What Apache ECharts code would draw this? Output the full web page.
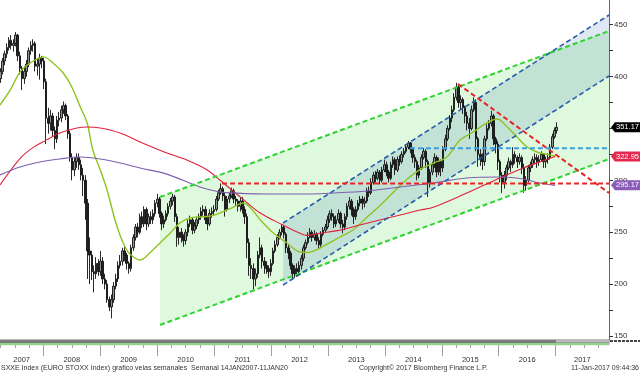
<!DOCTYPE html>
<html><head><meta charset="utf-8">
<script src="https://cdn.jsdelivr.net/npm/echarts/dist/echarts.min.js"></script>
<style>html,body{margin:0;padding:0;background:#fff}#c{width:640px;height:374px}</style>
</head><body><div id="c"></div>
<script>
// ---------- DATA ----------
// bi-weekly candles, first one week of 31-Mar-2007, step 14 days
const candleStart = '2007-03-31';
const candleStepDays = 14;
const opens = [
398,405,415,422,428,435,430,432,440,420,408,398,405,412,425,430,432,410,412,418,
415,395,360,355,362,348,340,358,360,368,372,362,345,322,310,318,322,315,305,300,278,232,228,212,210,220,
212,222,205,200,185,178,185,198,205,218,222,232,228,220,215,235,245,255,250,265,258,272,258,265,262,268,
278,282,268,258,262,268,275,280,284,265,245,250,245,242,250,258,262,252,256,262,265,270,272,262,258,268,
270,272,282,288,292,285,272,282,285,290,282,280,275,280,272,265,240,218,215,205,210,228,235,222,218,215,
212,220,232,238,245,250,255,248,235,230,218,210,215,212,218,225,235,240,245,250,245,248,242,238,248,252,
255,262,268,265,258,262,268,258,255,265,275,280,272,265,272,278,282,278,280,290,288,298,305,302,308,300,
310,315,308,302,315,320,310,320,318,325,328,332,336,330,322,318,305,312,322,328,318,298,308,315,322,308,
318,312,330,340,350,360,368,380,390,375,378,370,362,355,350,368,375,340,325,322,318,340,350,355,362,340,
335,318,305,298,305,312,318,315,325,322,318,322,312,295,300,312,315,320,322,318,320,325,318,320,322,332,342,348];
const closes = [
405,415,422,428,435,430,432,440,420,408,398,405,412,425,430,432,410,412,418,415,
395,360,355,362,348,340,358,360,368,372,362,345,322,310,318,322,315,305,300,278,232,228,212,210,220,212,
222,205,200,185,178,185,198,205,218,222,232,228,220,215,235,245,255,250,265,258,272,258,265,262,268,278,
282,268,258,262,268,275,280,284,265,245,250,245,242,250,258,262,252,256,262,265,270,272,262,258,268,270,
272,282,288,292,285,272,282,285,290,282,280,275,280,272,265,240,218,215,205,210,228,235,222,218,215,212,
220,232,238,245,250,255,248,235,230,218,210,215,212,218,225,235,240,245,250,245,248,242,238,248,252,255,
262,268,265,258,262,268,258,255,265,275,280,272,265,272,278,282,278,280,290,288,298,305,302,308,300,310,
315,308,302,315,320,310,320,318,325,328,332,336,330,322,318,305,312,322,328,318,298,308,315,322,308,318,
312,330,340,350,360,368,380,390,375,378,370,362,355,350,368,375,340,325,322,318,340,350,355,362,340,335,
318,305,298,305,312,318,315,325,322,318,322,312,295,300,312,315,320,322,318,320,325,318,320,322,332,342,348,351.17];
const highs = [
408,418,425,432,438,440,436,443,441,424,410,410,416,428,434,436,434,418,422,420,
418,398,370,368,365,352,362,366,372,376,374,364,348,326,322,326,326,320,312,305,282,245,232,218,226,224,
232,226,210,204,188,190,202,210,222,228,235,236,230,222,238,248,258,259,268,270,275,274,268,270,272,281,
287,284,270,266,271,278,283,287,286,268,255,254,248,253,262,266,264,260,265,268,274,276,275,266,272,274,
276,285,291,297,294,288,285,288,293,292,285,282,283,284,275,268,244,225,220,215,232,245,238,226,222,218,
224,235,242,248,253,258,257,250,238,232,220,218,220,222,228,238,243,250,254,252,252,250,245,251,255,258,
266,271,272,268,266,272,270,262,268,278,284,282,274,275,281,285,285,284,293,294,302,308,309,311,310,313,
320,318,310,318,323,322,323,324,328,331,335,338,337,332,325,320,315,325,331,330,320,311,318,326,324,322,
320,333,344,353,363,372,384,394,392,382,380,372,366,360,372,380,378,342,330,326,343,354,358,367,364,342,
338,320,308,309,315,322,320,332,328,324,326,324,316,304,315,318,323,326,325,324,328,326,323,326,335,345,351,356];
const lows = [
394,402,411,418,425,426,424,429,415,402,387,393,400,409,421,424,405,401,397,408,
388,335,345,348,342,330,336,352,356,364,358,340,318,300,304,312,310,300,285,262,205,200,204,192,205,208,
208,200,195,182,174,167,182,195,202,215,218,222,214,210,212,232,242,245,248,254,255,252,255,258,258,265,
274,264,252,254,260,265,272,276,260,236,238,240,236,238,246,255,248,249,253,258,262,266,258,252,256,264,
266,270,280,286,280,265,270,278,283,278,275,270,270,268,258,225,208,205,195,198,206,225,215,210,210,206,
208,218,230,236,243,247,244,230,224,214,205,206,207,208,214,222,233,238,244,241,242,238,234,236,246,250,
253,259,261,254,255,259,254,249,252,262,272,266,258,262,270,275,272,274,278,284,286,296,298,300,296,298,
308,304,298,300,312,305,308,314,316,322,326,330,326,317,312,300,302,310,320,312,284,293,305,312,303,305,
304,308,328,338,348,356,366,377,370,368,364,355,348,340,348,366,328,313,314,310,314,338,348,352,334,326,
310,298,288,292,300,310,308,312,316,312,315,306,288,290,298,308,312,316,312,314,318,312,312,316,320,330,340,345];

// moving averages: [decimal year, value]
const maGreen = [[2007.24,372.6],[2007.42,387.1],[2007.59,404.3],[2007.77,413.1],[2007.94,418.0],[2008.00,419.0],[2008.17,413.1],[2008.35,403.4],[2008.50,390.0],[2008.65,370.7],[2008.77,355.3],[2008.87,329.2],[2009.00,310.0],[2009.12,290.7],[2009.26,261.8],[2009.38,242.5],[2009.49,230.9],[2009.61,225.2],[2009.70,223.2],[2009.87,230.0],[2010.05,239.6],[2010.23,249.3],[2010.40,259.0],[2010.58,263.7],[2010.75,264.7],[2010.93,265.5],[2011.10,268.5],[2011.33,274.0],[2011.51,278.2],[2011.63,274.0],[2011.81,262.0],[2012.04,249.3],[2012.28,239.6],[2012.51,230.9],[2012.63,230.5],[2012.86,234.8],[2013.21,245.4],[2013.44,252.1],[2013.69,264.7],[2013.92,276.0],[2014.14,288.0],[2014.39,301.0],[2014.62,310.5],[2014.85,316.7],[2015.09,322.5],[2015.32,338.9],[2015.55,346.6],[2015.79,355.3],[2015.97,359.1],[2016.15,351.4],[2016.32,341.8],[2016.50,332.1],[2016.67,327.3],[2016.85,325.0],[2016.99,323.5]];
const maRed = [[2007.24,295.5],[2007.59,321.0],[2007.83,332.0],[2008.06,339.0],[2008.29,345.6],[2008.59,350.4],[2008.77,351.4],[2009.00,350.4],[2009.35,345.6],[2009.70,337.0],[2010.17,326.4],[2010.52,319.6],[2010.88,310.0],[2011.10,300.3],[2011.46,284.0],[2011.81,268.5],[2012.21,257.0],[2012.51,249.0],[2012.63,247.0],[2012.86,249.0],[2013.21,252.0],[2013.56,257.0],[2013.91,261.8],[2014.27,266.6],[2014.62,271.4],[2014.85,274.0],[2015.44,287.8],[2016.02,302.3],[2016.43,312.0],[2016.72,317.7],[2016.99,322.95]];
const maPurple = [[2007.24,305.2],[2007.59,312.9],[2007.94,317.7],[2008.29,320.6],[2008.64,322.5],[2009.00,320.6],[2009.35,316.7],[2009.70,311.9],[2010.17,306.0],[2010.75,293.6],[2011.10,288.8],[2011.33,287.8],[2011.93,286.8],[2012.51,286.8],[2013.09,287.8],[2013.69,289.7],[2014.27,293.6],[2014.85,297.4],[2015.44,302.3],[2016.02,303.2],[2016.43,301.3],[2016.72,297.4],[2016.99,295.17]];

// trend channels and levels: [decimal year, value]
const greenUpper = [[2010.05,283.9],[2017.937,443.9]];
const greenLower = [[2010.05,160.6],[2017.937,320.6]];
const blueUpper = [[2012.211,258.9],[2017.937,459.3]];
const blueLower = [[2012.211,199.1],[2017.937,400.6]];
const redDown = [[2015.284,392.9],[2017.937,287.8]];
const redLevel = [[2011.14,297.0],[2017.937,297.0]];
const blueLevel = [[2014.44,330.9],[2017.937,330.9]];

// last-value tags
const tagValues = {price: 351.17, red: 322.95, purple: 295.17};

const yearLabels = ['2007','2008','2009','2010','2011','2012','2013','2014','2015','2016','2017'];
const yTickValues = [150,175,200,225,250,275,300,325,350,375,400,425,450];
const yLabelValues = [150,200,250,300,350,400,450];

const footerLeft = 'SXXE Index (EURO STOXX Index) grafico velas semanales  Semanal 14JAN2007-11JAN20';
const footerMid = 'Copyright\u00A9 2017 Bloomberg Finance L.P.';
const footerRight = '11-Jan-2017 09:44:36';

// ---------- BUILD ----------
const X_MIN = 2007.2394, X_MAX = 2017.9366;
const Y_MIN = 146.15, Y_MAX = 473.8;
const FONT = '"Liberation Sans",Arial,sans-serif';

function decYear(ms){const d=new Date(ms);const y=d.getUTCFullYear();const s=Date.UTC(y,0,1),e=Date.UTC(y+1,0,1);return y+(ms-s)/(e-s);}
const t0 = Date.parse(candleStart+'T00:00:00Z');
const candleData = closes.map((c,i)=>[decYear(t0+i*candleStepDays*86400000), opens[i], c, lows[i], highs[i]]);

const yearTicks = yearLabels.map(Number).filter(y=>y>X_MIN && y<X_MAX);
const yearLabelPos = yearLabels.map(s=>{const y=Number(s);return (Math.max(y,X_MIN)+Math.min(y+1,X_MAX))/2;});
const quarterTicks = [];
yearLabels.forEach(s=>{const y=Number(s);[0.25,0.5,0.75].forEach(q=>{if(y+q>X_MIN&&y+q<X_MAX)quarterTicks.push(y+q);});});

function band(data, color){
  return {type:'custom', z:1, silent:true, animation:false,
    data:[[data[0][0][0], data[1][0][1], data[0][0][1], data[0][1][0], data[1][1][1], data[0][1][1]]],
    encode:{x:[0,3], y:[1,2,4,5]},
    renderItem:(p,api)=>({type:'polygon', shape:{points:[
      api.coord([api.value(0),api.value(2)]), api.coord([api.value(3),api.value(5)]),
      api.coord([api.value(3),api.value(4)]), api.coord([api.value(0),api.value(1)])]},
      style:{fill:color}})};
}
function dashed(data,color,w){
  return {type:'line', z:5, data, symbol:'none', silent:true, animation:false,
    lineStyle:{color, width:w, type:[5,3]}};
}
function tag(value,color){
  return {symbol:'path://M0,5L4,0L30,0L30,10L4,10Z', symbolSize:[29,10], symbolKeepAspect:false,
    symbolOffset:[16.5,0], silent:true, animation:false,
    label:{show:true, position:'inside', color:'#fff', fontSize:7.5, fontFamily:FONT, offset:[2,0],
      formatter:()=>value.toFixed(2)},
    itemStyle:{color}, data:[{coord:[X_MAX,value], value}]};
}
function ma(data,color,w){
  return {type:'line', z:4, data, symbol:'none', smooth:0.35, silent:true, animation:false,
    lineStyle:{color, width:w}};
}

const chart = echarts.init(document.getElementById('c'), null, {renderer:'canvas'});
const maRedSeries = ma(maRed,'#e0203c',1.1); maRedSeries.markPoint = tag(tagValues.red,'#e4284e');
const maPurpleSeries = ma(maPurple,'#7d5fae',1.1); maPurpleSeries.markPoint = tag(tagValues.purple,'#8a5cb8');
const footStyle = {fontSize:7, fontWeight:'normal', color:'#333', fontFamily:FONT};

chart.setOption({
  animation:false,
  backgroundColor:'#fff',
  title:[
    {text:footerLeft, left:1, top:365, padding:0, textStyle:footStyle},
    {text:footerMid, left:359, top:365, padding:0, textStyle:footStyle},
    {text:footerRight, right:1, top:365, padding:0, textStyle:footStyle}
  ],
  grid:{left:0, right:31, top:0, bottom:34, containLabel:false},
  xAxis:[
    {type:'value', min:X_MIN, max:X_MAX, position:'bottom', axisLine:{show:false}, splitLine:{show:false},
     axisTick:{show:true, customValues:yearTicks, length:16, lineStyle:{color:'#a0a0a0'}},
     axisLabel:{show:true, customValues:yearLabelPos, formatter:v=>String(Math.floor(v)), fontSize:7.5, color:'#333', fontFamily:FONT, margin:16}},
    {type:'value', min:X_MIN, max:X_MAX, position:'bottom', axisLine:{show:false}, splitLine:{show:false},
     axisTick:{show:true, customValues:quarterTicks, length:8, lineStyle:{color:'#a0a0a0'}},
     axisLabel:{show:false}}
  ],
  yAxis:[
    {type:'value', min:Y_MIN, max:Y_MAX, position:'right', splitLine:{show:false},
     axisLine:{show:true, lineStyle:{color:'#666', width:1}},
     axisTick:{show:true, customValues:yTickValues, length:4, lineStyle:{color:'#333'}},
     axisLabel:{customValues:yLabelValues, fontSize:8, color:'#333', fontFamily:FONT, margin:5}}
  ],
  graphic:[
    {type:'rect', z:100, shape:{x:0, y:339.5, width:609.5, height:3.5}, style:{fill:'#7b7b7b'}},
    {type:'rect', z:101, shape:{x:556, y:340, width:53.5, height:2.5}, style:{fill:'#b9b9b9'}},
    {type:'rect', z:100, shape:{x:0, y:343, width:609.5, height:2.2}, style:{fill:'#92d392'}},
    {type:'line', z:100, shape:{x1:610, y1:341, x2:640, y2:341}, style:{stroke:'#444', lineWidth:2, lineDash:[3,1]}}
  ],
  series:[
    band([greenUpper,greenLower],'rgba(40,215,40,0.15)'),
    band([blueUpper,blueLower],'rgba(30,95,160,0.14)'),
    {type:'candlestick', z:3, data:candleData, encode:{x:0, y:[1,2,3,4]}, barWidth:2, silent:true, animation:false,
     itemStyle:{color:'#8f968f', color0:'#222', borderColor:'#111', borderColor0:'#111', borderWidth:0.9},
     markPoint:tag(tagValues.price,'#000')},
    ma(maGreen,'#8fc31f',1.4),
    maRedSeries,
    maPurpleSeries,
    dashed(greenUpper,'#2fd32f',2),
    dashed(greenLower,'#2fd32f',2),
    dashed(blueUpper,'#2a5caa',1.6),
    dashed(blueLower,'#2a5caa',1.6),
    dashed(redLevel,'#e82525',2),
    dashed(redDown,'#e82525',2),
    dashed(blueLevel,'#3f9ee0',2)
  ]
});
</script></body></html>
